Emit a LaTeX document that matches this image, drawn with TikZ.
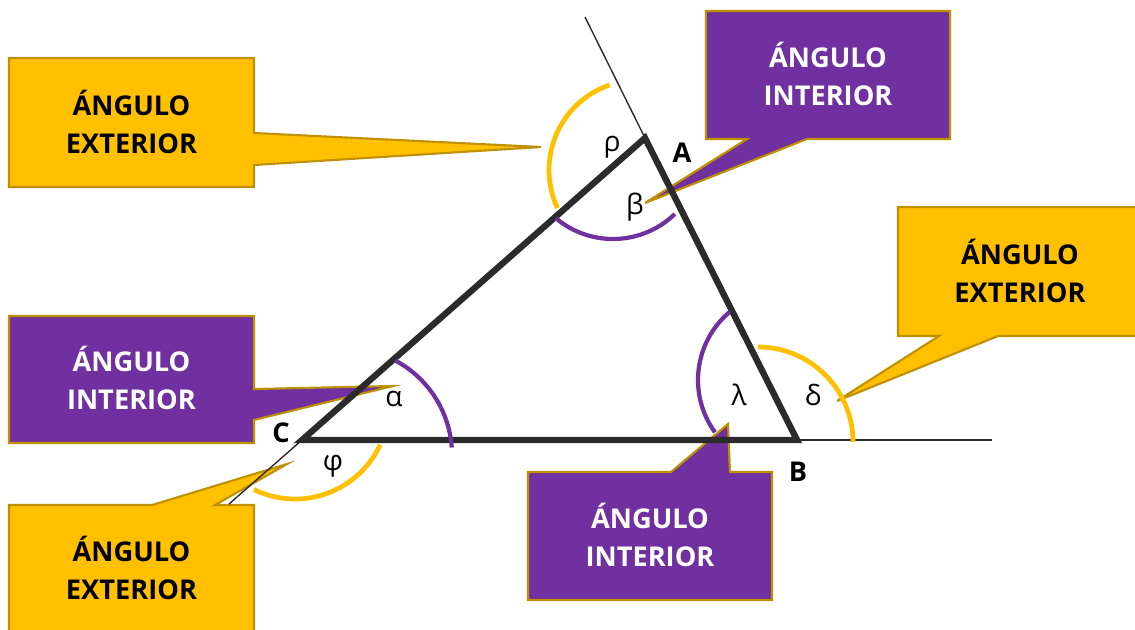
\documentclass[tikz,border=0pt]{standalone}
\usepackage{fontspec}
\setmainfont{Open Sans}
\definecolor{exfill}{HTML}{FFC000}
\definecolor{infill}{HTML}{7030A0}
\definecolor{calledge}{HTML}{BF9000}
\definecolor{sidegray}{HTML}{2B2B2B}
\begin{document}
\begin{tikzpicture}[x=0.02cm, y=-0.02cm,
  exbox/.style={fill=exfill, draw=calledge, line width=1.2pt, line join=miter},
  inbox/.style={fill=infill, draw=calledge, line width=1.2pt, line join=miter},
  boxtext/.style={font=\bfseries\fontsize{15.5}{22}\selectfont, align=center},
  side/.style={draw=sidegray, line width=3.6pt, line join=miter},
  extline/.style={draw=sidegray, line width=0.8pt},
  exarc/.style={draw=exfill, line width=2.7pt},
  inarc/.style={draw=infill, line width=2.4pt},
  greek/.style={font=\fontsize{16}{19}\selectfont, text=black},
  vertex/.style={font=\bfseries\fontsize{15.5}{19}\selectfont}]
\useasboundingbox (0,0) rectangle (1135,629);

% callouts
\path[exbox] (9,58) -- (254,58) -- (254,133) -- (541,147) -- (254,165) -- (254,187) -- (9,187) -- cycle;
\path[inbox] (706,11) -- (950,11) -- (950,139) -- (807,139) -- (645,203) -- (747,139) -- (706,139) -- cycle;
\path[exbox] (898,207) -- (1142,207) -- (1142,336) -- (998,336) -- (837,401) -- (939,336) -- (898,336) -- cycle;
\path[inbox] (9,316) -- (254,316) -- (254,389) -- (393,386) -- (254,420) -- (254,443) -- (9,443) -- cycle;
\path[exbox] (9,505) -- (152,505) -- (287,464) -- (215,505) -- (254,505) -- (254,640) -- (9,640) -- cycle;
\path[inbox] (528,472) -- (671,472) -- (728,424) -- (730,472) -- (772,472) -- (772,600) -- (528,600) -- cycle;

\node[boxtext] (extA) at (131.5,122) {ÁNGULO\\EXTERIOR};
\node[boxtext, text=white] (intA) at (828,74) {ÁNGULO\\INTERIOR};
\node[boxtext] (extB) at (1020,271) {ÁNGULO\\EXTERIOR};
\node[boxtext, text=white] (intC) at (131.5,378) {ÁNGULO\\INTERIOR};
\node[boxtext] (extC) at (131.5,568) {ÁNGULO\\EXTERIOR};
\node[boxtext, text=white] (intB) at (650,535) {ÁNGULO\\INTERIOR};

% triangle
\coordinate (A) at (645,138);
\coordinate (B) at (797,440);
\coordinate (C) at (302,440);
\coordinate (Atop) at (585,17);
\coordinate (Bend) at (992,440);
\coordinate (Cbot) at (229,504);

\draw[extline] (A) -- (Atop);
\draw[extline] (B) -- (Bend);
\draw[extline] (C) -- (Cbot);
\draw[side] (A) -- (B) -- (C) -- cycle;

% angle arcs
\draw[exarc] (639,170) ++(155:90) arc[start angle=155, end angle=251, radius=90];
\draw[inarc] (613,150) ++(46:89) arc[start angle=46, end angle=130, radius=89];
\draw[inarc] (345,455) ++(-62:107) arc[start angle=-62, end angle=-4, radius=107];
\draw[exarc] (295,405) ++(25:94) arc[start angle=25, end angle=116, radius=94];
\draw[inarc] (787,380) ++(144:89) arc[start angle=144, end angle=230, radius=89];
\draw[exarc] (758,442) ++(-90:95) arc[start angle=-90, end angle=0, radius=95];

\node[greek] (rho) at (612,147) {ρ};
\node[greek] (beta) at (635,207) {β};
\node[greek] (alpha) at (394,399) {α};
\node[greek] (phi) at (333,466) {φ};
\node[greek] (lambda) at (739,395) {λ};
\node[greek] (delta) at (813,395) {δ};

\node[vertex] (labA) at (682,153) {A};
\node[vertex] (labB) at (798,472) {B};
\node[vertex] (labC) at (281,433) {C};
\end{tikzpicture}
\end{document}
